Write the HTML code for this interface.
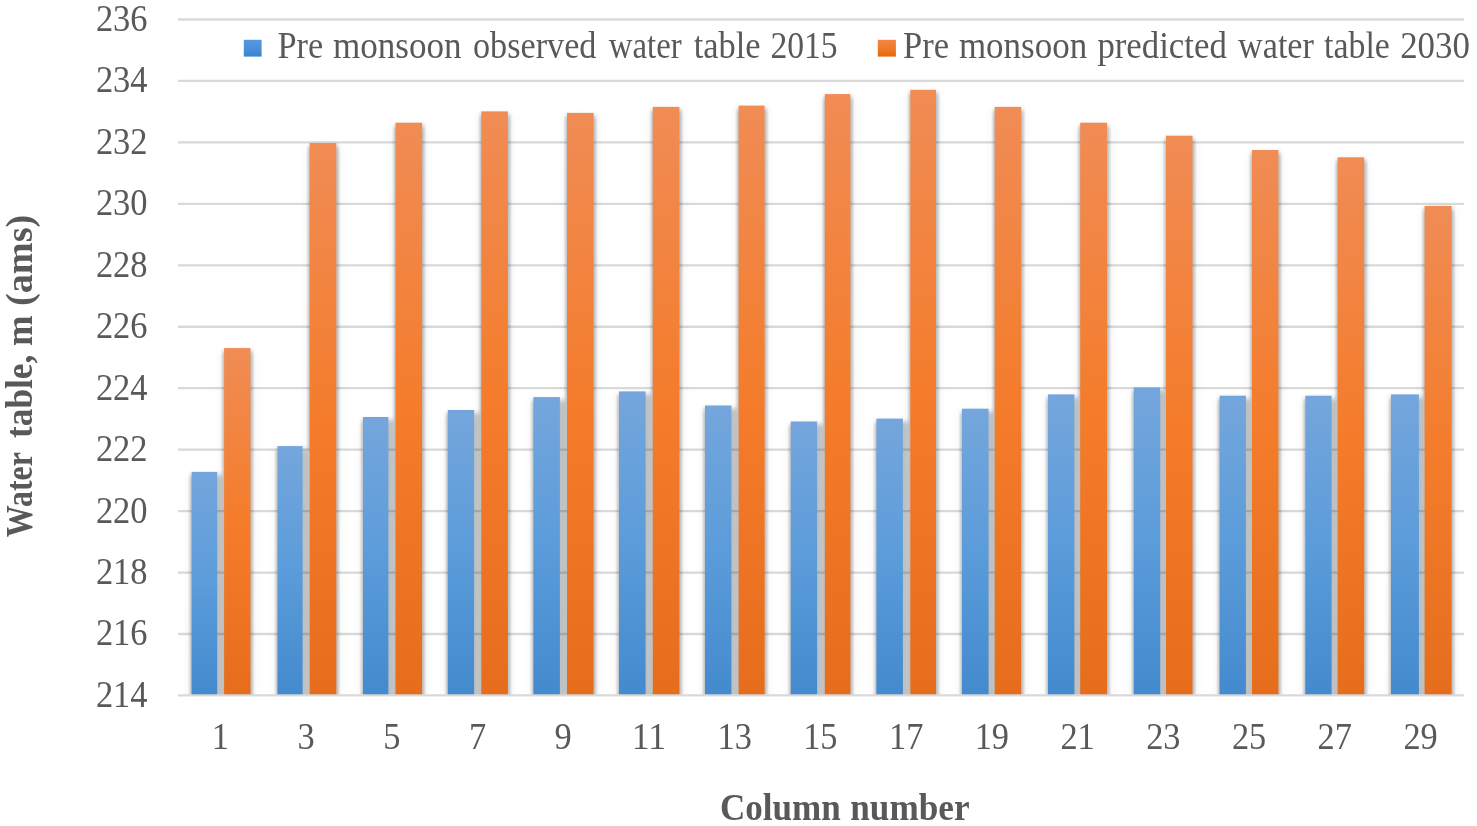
<!DOCTYPE html>
<html lang="en"><head><meta charset="utf-8"><title>Pre monsoon water table chart</title>
<style>html,body{margin:0;padding:0;background:#fff;}body{width:1477px;height:826px;overflow:hidden;}svg{display:block;}text{font-family:"Liberation Serif",serif;fill:#595959;}</style></head><body>
<svg width="1477" height="826" viewBox="0 0 1477 826">
<defs>
<linearGradient id="gb" x1="0" y1="0" x2="0" y2="1"><stop offset="0" stop-color="#74A6DC"/><stop offset="0.5" stop-color="#5B9CDA"/><stop offset="1" stop-color="#438ACE"/></linearGradient>
<linearGradient id="go" x1="0" y1="0" x2="0" y2="1"><stop offset="0" stop-color="#F08C55"/><stop offset="0.5" stop-color="#F47C2B"/><stop offset="1" stop-color="#E56D1B"/></linearGradient>
<linearGradient id="lb" x1="0" y1="0" x2="0" y2="1"><stop offset="0" stop-color="#5498DF"/><stop offset="0.5" stop-color="#4A90DA"/><stop offset="1" stop-color="#3C83CD"/></linearGradient>
<linearGradient id="lo" x1="0" y1="0" x2="0" y2="1"><stop offset="0" stop-color="#F28646"/><stop offset="0.5" stop-color="#F07A2A"/><stop offset="1" stop-color="#E2680E"/></linearGradient>
<filter id="wide" filterUnits="userSpaceOnUse" x="170" y="0" width="1307" height="720" color-interpolation-filters="sRGB"><feGaussianBlur stdDeviation="5 3"/></filter>
<filter id="near" filterUnits="userSpaceOnUse" x="170" y="0" width="1307" height="720" color-interpolation-filters="sRGB"><feGaussianBlur stdDeviation="1.2 2"/></filter>
<clipPath id="plot"><rect x="170" y="0" width="1307" height="694.3"/></clipPath>
</defs>
<rect width="1477" height="826" fill="#fff"/>
<line x1="178.0" y1="19.50" x2="1464.0" y2="19.50" stroke="#D9D9D9" stroke-width="2.3"/>
<line x1="178.0" y1="80.95" x2="1464.0" y2="80.95" stroke="#D9D9D9" stroke-width="2.3"/>
<line x1="178.0" y1="142.40" x2="1464.0" y2="142.40" stroke="#D9D9D9" stroke-width="2.3"/>
<line x1="178.0" y1="203.85" x2="1464.0" y2="203.85" stroke="#D9D9D9" stroke-width="2.3"/>
<line x1="178.0" y1="265.30" x2="1464.0" y2="265.30" stroke="#D9D9D9" stroke-width="2.3"/>
<line x1="178.0" y1="326.75" x2="1464.0" y2="326.75" stroke="#D9D9D9" stroke-width="2.3"/>
<line x1="178.0" y1="388.20" x2="1464.0" y2="388.20" stroke="#D9D9D9" stroke-width="2.3"/>
<line x1="178.0" y1="449.65" x2="1464.0" y2="449.65" stroke="#D9D9D9" stroke-width="2.3"/>
<line x1="178.0" y1="511.10" x2="1464.0" y2="511.10" stroke="#D9D9D9" stroke-width="2.3"/>
<line x1="178.0" y1="572.55" x2="1464.0" y2="572.55" stroke="#D9D9D9" stroke-width="2.3"/>
<line x1="178.0" y1="634.00" x2="1464.0" y2="634.00" stroke="#D9D9D9" stroke-width="2.3"/>
<line x1="178.0" y1="695.45" x2="1464.0" y2="695.45" stroke="#D9D9D9" stroke-width="2.3"/>
<g clip-path="url(#plot)">
<path d="M192.0 475.9H217.6V708.0H192.0ZM224.5 352.1H250.9V708.0H224.5ZM277.9 450.1H303.0V708.0H277.9ZM310.1 147.0H336.7V708.0H310.1ZM363.4 421.0H388.8V708.0H363.4ZM395.9 126.7H422.5V708.0H395.9ZM448.2 414.0H474.5V708.0H448.2ZM481.7 115.4H508.3V708.0H481.7ZM533.8 401.1H560.3V708.0H533.8ZM567.4 116.9H594.0V708.0H567.4ZM619.4 395.4H646.0V708.0H619.4ZM653.2 110.9H679.8V708.0H653.2ZM705.4 409.5H731.8V708.0H705.4ZM739.0 109.6H765.0V708.0H739.0ZM791.2 425.5H817.5V708.0H791.2ZM825.2 98.1H850.8V708.0H825.2ZM876.8 422.6H903.3V708.0H876.8ZM910.7 93.8H936.4V708.0H910.7ZM962.4 412.7H989.0V708.0H962.4ZM995.1 110.9H1021.6V708.0H995.1ZM1048.4 398.4H1074.8V708.0H1048.4ZM1080.6 126.7H1107.4V708.0H1080.6ZM1134.2 391.4H1160.6V708.0H1134.2ZM1166.4 139.7H1192.9V708.0H1166.4ZM1220.0 399.7H1246.3V708.0H1220.0ZM1252.4 154.0H1278.8V708.0H1252.4ZM1305.7 399.7H1332.0V708.0H1305.7ZM1338.0 161.3H1364.6V708.0H1338.0ZM1391.4 398.4H1419.3V708.0H1391.4ZM1425.0 209.9H1452.0V708.0H1425.0Z" fill="#1c2530" fill-opacity="0.14" filter="url(#wide)"/>
<path d="M189.8 474.7H219.8V708.0H189.8ZM222.3 350.9H253.1V708.0H222.3ZM217.2 474.7H224.1V708.0H217.2ZM275.7 448.9H305.2V708.0H275.7ZM307.9 145.8H338.9V708.0H307.9ZM302.6 448.9H309.7V708.0H302.6ZM361.2 419.8H391.0V708.0H361.2ZM393.7 125.5H424.7V708.0H393.7ZM388.4 419.8H395.5V708.0H388.4ZM446.0 412.8H476.7V708.0H446.0ZM479.5 114.2H510.5V708.0H479.5ZM474.1 412.8H481.3V708.0H474.1ZM531.6 399.9H562.5V708.0H531.6ZM565.2 115.7H596.2V708.0H565.2ZM559.9 399.9H567.0V708.0H559.9ZM617.2 394.2H648.2V708.0H617.2ZM651.0 109.7H682.0V708.0H651.0ZM645.6 394.2H652.8V708.0H645.6ZM703.2 408.3H734.0V708.0H703.2ZM736.8 108.4H767.2V708.0H736.8ZM731.4 408.3H738.6V708.0H731.4ZM789.0 424.3H819.7V708.0H789.0ZM823.0 96.9H853.0V708.0H823.0ZM817.1 424.3H824.8V708.0H817.1ZM874.6 421.4H905.5V708.0H874.6ZM908.5 92.6H938.6V708.0H908.5ZM902.9 421.4H910.3V708.0H902.9ZM960.2 411.5H991.2V708.0H960.2ZM992.9 109.7H1023.8V708.0H992.9ZM988.6 411.5H994.7V708.0H988.6ZM1046.2 397.2H1077.0V708.0H1046.2ZM1078.4 125.5H1109.6V708.0H1078.4ZM1074.4 397.2H1080.2V708.0H1074.4ZM1132.0 390.2H1162.8V708.0H1132.0ZM1164.2 138.5H1195.1V708.0H1164.2ZM1160.2 390.2H1166.0V708.0H1160.2ZM1217.8 398.5H1248.5V708.0H1217.8ZM1250.2 152.8H1281.0V708.0H1250.2ZM1245.9 398.5H1252.0V708.0H1245.9ZM1303.5 398.5H1334.2V708.0H1303.5ZM1335.8 160.1H1366.8V708.0H1335.8ZM1331.6 398.5H1337.6V708.0H1331.6ZM1389.2 397.2H1421.5V708.0H1389.2ZM1422.8 208.7H1454.2V708.0H1422.8ZM1418.9 397.2H1424.6V708.0H1418.9Z" fill="#22252a" fill-opacity="0.23" filter="url(#near)"/>
<rect x="191.6" y="471.9" width="25.6" height="223.1" fill="url(#gb)"/>
<rect x="224.1" y="348.1" width="26.4" height="346.9" fill="url(#go)"/>
<rect x="277.5" y="446.1" width="25.1" height="248.9" fill="url(#gb)"/>
<rect x="309.7" y="143.0" width="26.6" height="552.0" fill="url(#go)"/>
<rect x="363.0" y="417.0" width="25.4" height="278.0" fill="url(#gb)"/>
<rect x="395.5" y="122.7" width="26.6" height="572.3" fill="url(#go)"/>
<rect x="447.8" y="410.0" width="26.3" height="285.0" fill="url(#gb)"/>
<rect x="481.3" y="111.4" width="26.6" height="583.6" fill="url(#go)"/>
<rect x="533.4" y="397.1" width="26.5" height="297.9" fill="url(#gb)"/>
<rect x="567.0" y="112.9" width="26.6" height="582.1" fill="url(#go)"/>
<rect x="619.0" y="391.4" width="26.6" height="303.6" fill="url(#gb)"/>
<rect x="652.8" y="106.9" width="26.6" height="588.1" fill="url(#go)"/>
<rect x="705.0" y="405.5" width="26.4" height="289.5" fill="url(#gb)"/>
<rect x="738.6" y="105.6" width="26.0" height="589.4" fill="url(#go)"/>
<rect x="790.8" y="421.5" width="26.3" height="273.5" fill="url(#gb)"/>
<rect x="824.8" y="94.1" width="25.6" height="600.9" fill="url(#go)"/>
<rect x="876.4" y="418.6" width="26.5" height="276.4" fill="url(#gb)"/>
<rect x="910.3" y="89.8" width="25.7" height="605.2" fill="url(#go)"/>
<rect x="962.0" y="408.7" width="26.6" height="286.3" fill="url(#gb)"/>
<rect x="994.7" y="106.9" width="26.5" height="588.1" fill="url(#go)"/>
<rect x="1048.0" y="394.4" width="26.4" height="300.6" fill="url(#gb)"/>
<rect x="1080.2" y="122.7" width="26.8" height="572.3" fill="url(#go)"/>
<rect x="1133.8" y="387.4" width="26.4" height="307.6" fill="url(#gb)"/>
<rect x="1166.0" y="135.7" width="26.5" height="559.3" fill="url(#go)"/>
<rect x="1219.6" y="395.7" width="26.3" height="299.3" fill="url(#gb)"/>
<rect x="1252.0" y="150.0" width="26.4" height="545.0" fill="url(#go)"/>
<rect x="1305.3" y="395.7" width="26.3" height="299.3" fill="url(#gb)"/>
<rect x="1337.6" y="157.3" width="26.6" height="537.7" fill="url(#go)"/>
<rect x="1391.0" y="394.4" width="27.9" height="300.6" fill="url(#gb)"/>
<rect x="1424.6" y="205.9" width="27.0" height="489.1" fill="url(#go)"/>
</g>
<text x="95.9" y="30.9" font-size="37.6" textLength="51.7" lengthAdjust="spacingAndGlyphs">236</text>
<text x="95.9" y="92.4" font-size="37.6" textLength="51.7" lengthAdjust="spacingAndGlyphs">234</text>
<text x="95.9" y="153.8" font-size="37.6" textLength="51.7" lengthAdjust="spacingAndGlyphs">232</text>
<text x="95.9" y="215.3" font-size="37.6" textLength="51.7" lengthAdjust="spacingAndGlyphs">230</text>
<text x="95.9" y="276.7" font-size="37.6" textLength="51.7" lengthAdjust="spacingAndGlyphs">228</text>
<text x="95.9" y="338.1" font-size="37.6" textLength="51.7" lengthAdjust="spacingAndGlyphs">226</text>
<text x="95.9" y="399.6" font-size="37.6" textLength="51.7" lengthAdjust="spacingAndGlyphs">224</text>
<text x="95.9" y="461.1" font-size="37.6" textLength="51.7" lengthAdjust="spacingAndGlyphs">222</text>
<text x="95.9" y="522.5" font-size="37.6" textLength="51.7" lengthAdjust="spacingAndGlyphs">220</text>
<text x="95.9" y="584.0" font-size="37.6" textLength="51.7" lengthAdjust="spacingAndGlyphs">218</text>
<text x="95.9" y="645.4" font-size="37.6" textLength="51.7" lengthAdjust="spacingAndGlyphs">216</text>
<text x="95.9" y="706.9" font-size="37.6" textLength="51.7" lengthAdjust="spacingAndGlyphs">214</text>
<text x="211.7" y="749.4" font-size="37.6" textLength="17.2" lengthAdjust="spacingAndGlyphs">1</text>
<text x="297.4" y="749.4" font-size="37.6" textLength="17.2" lengthAdjust="spacingAndGlyphs">3</text>
<text x="383.2" y="749.4" font-size="37.6" textLength="17.2" lengthAdjust="spacingAndGlyphs">5</text>
<text x="468.9" y="749.4" font-size="37.6" textLength="17.2" lengthAdjust="spacingAndGlyphs">7</text>
<text x="554.6" y="749.4" font-size="37.6" textLength="17.2" lengthAdjust="spacingAndGlyphs">9</text>
<text x="631.8" y="749.4" font-size="37.6" textLength="34.3" lengthAdjust="spacingAndGlyphs">11</text>
<text x="717.5" y="749.4" font-size="37.6" textLength="34.3" lengthAdjust="spacingAndGlyphs">13</text>
<text x="803.2" y="749.4" font-size="37.6" textLength="34.3" lengthAdjust="spacingAndGlyphs">15</text>
<text x="889.0" y="749.4" font-size="37.6" textLength="34.3" lengthAdjust="spacingAndGlyphs">17</text>
<text x="974.7" y="749.4" font-size="37.6" textLength="34.3" lengthAdjust="spacingAndGlyphs">19</text>
<text x="1060.4" y="749.4" font-size="37.6" textLength="34.3" lengthAdjust="spacingAndGlyphs">21</text>
<text x="1146.2" y="749.4" font-size="37.6" textLength="34.3" lengthAdjust="spacingAndGlyphs">23</text>
<text x="1231.9" y="749.4" font-size="37.6" textLength="34.3" lengthAdjust="spacingAndGlyphs">25</text>
<text x="1317.6" y="749.4" font-size="37.6" textLength="34.3" lengthAdjust="spacingAndGlyphs">27</text>
<text x="1403.4" y="749.4" font-size="37.6" textLength="34.3" lengthAdjust="spacingAndGlyphs">29</text>
<rect x="243.8" y="39.8" width="17.8" height="16.8" fill="url(#lb)"/>
<text y="58.3" font-size="37.0"><tspan x="277.5" textLength="45.7" lengthAdjust="spacingAndGlyphs">Pre</tspan> <tspan x="332.9" textLength="128.8" lengthAdjust="spacingAndGlyphs">monsoon</tspan> <tspan x="473.0" textLength="123.4" lengthAdjust="spacingAndGlyphs">observed</tspan> <tspan x="608.8" textLength="72.9" lengthAdjust="spacingAndGlyphs">water</tspan> <tspan x="693.7" textLength="66.9" lengthAdjust="spacingAndGlyphs">table</tspan> <tspan x="770.4" textLength="67.2" lengthAdjust="spacingAndGlyphs">2015</tspan></text>
<rect x="877.8" y="39.8" width="18.1" height="16.8" fill="url(#lo)"/>
<text y="58.3" font-size="37.0"><tspan x="903.0" textLength="46.1" lengthAdjust="spacingAndGlyphs">Pre</tspan> <tspan x="958.9" textLength="128.3" lengthAdjust="spacingAndGlyphs">monsoon</tspan> <tspan x="1097.4" textLength="129.4" lengthAdjust="spacingAndGlyphs">predicted</tspan> <tspan x="1238.1" textLength="75.8" lengthAdjust="spacingAndGlyphs">water</tspan> <tspan x="1324.1" textLength="65.8" lengthAdjust="spacingAndGlyphs">table</tspan> <tspan x="1400.2" textLength="69.7" lengthAdjust="spacingAndGlyphs">2030</tspan></text>
<text y="819.6" font-size="37.5" font-weight="bold"><tspan x="719.9" textLength="120.8" lengthAdjust="spacingAndGlyphs">Column</tspan> <tspan x="850.3" textLength="119.3" lengthAdjust="spacingAndGlyphs">number</tspan></text>
<text y="0.0" font-size="37.5" font-weight="bold" transform="translate(32.3 536.7) rotate(-90)"><tspan x="-0.5" textLength="84.5" lengthAdjust="spacingAndGlyphs">Water</tspan> <tspan x="98.8" textLength="83.2" lengthAdjust="spacingAndGlyphs">table,</tspan> <tspan x="190.7" textLength="30.6" lengthAdjust="spacingAndGlyphs">m</tspan> <tspan x="230.7" textLength="91.3" lengthAdjust="spacingAndGlyphs">(ams)</tspan></text>
</svg></body></html>
